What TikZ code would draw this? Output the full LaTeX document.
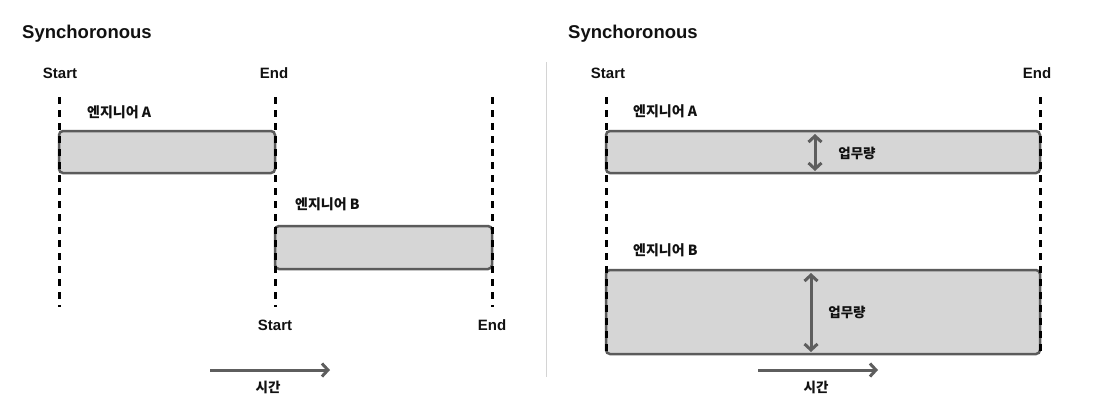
\documentclass[tikz,border=0pt]{standalone}
\usepackage{fontspec}
\setmainfont{Liberation Sans}
\newfontfamily\kr{Noto Sans CJK KR}
\usetikzlibrary{arrows.meta}
\definecolor{boxfill}{HTML}{D6D6D6}
\definecolor{boxline}{HTML}{5B5B5B}
\definecolor{arrowgray}{HTML}{5E5E5E}
\definecolor{sepgray}{HTML}{D4D4D4}
\definecolor{ink}{HTML}{111111}
\begin{document}
\begin{tikzpicture}[x=1pt,y=-1pt,
  title/.style={anchor=base west,inner sep=0pt,text=ink,font=\bfseries\fontsize{18.5}{22}\selectfont},
  lbl/.style={anchor=base,inner sep=0pt,text=ink,font=\bfseries\fontsize{15}{17}\selectfont},
  krlbl/.style={inner sep=0pt,text=ink,font=\kr\bfseries\fontsize{13.5}{15}\selectfont},
  krname/.style={anchor=west,inner sep=0pt,text=ink,font=\kr\bfseries\fontsize{14}{16}\selectfont},
  taskbox/.style={draw=boxline,fill=boxfill,line width=2.5pt,rounded corners=4pt,inner sep=0pt},
  vdash/.style={draw=black,line width=3pt,dash pattern=on 7pt off 6pt},
  timearrow/.style={draw=arrowgray,line width=3pt,-{Straight Barb[length=6pt,width=13pt]}},
  loadarrow/.style={draw=arrowgray,line width=3pt,{Straight Barb[length=6pt,width=13pt]}-{Straight Barb[length=6pt,width=13pt]}}
]
\useasboundingbox (0,0) rectangle (1102,405);

% ---------- left panel ----------
\node[title] (t1) at (22,38.5) {Synchoronous};
\node[lbl] (s1) at (60,78) {Start};
\node[lbl] (e1) at (274,78) {End};

\node[taskbox,minimum width=216pt,minimum height=42pt] (ba1) at (167,152) {};
\node[taskbox,minimum width=217pt,minimum height=43pt] (bb1) at (383.5,247.5) {};

\node[krname] (na1) at (87,112) {엔지니어 A};
\node[krname] (nb1) at (295,204) {엔지니어 B};

\coordinate (d1t) at (59,97);  \coordinate (d1b) at (59,307);
\coordinate (d2t) at (275,97); \coordinate (d2b) at (275,307);
\coordinate (d3t) at (492,97); \coordinate (d3b) at (492,307);
\draw[vdash] (d1t) -- (d1b);
\draw[vdash] (d2t) -- (d2b);
\draw[vdash] (d3t) -- (d3b);

\node[lbl] (s2) at (275,330) {Start};
\node[lbl] (e2) at (492,330) {End};

\coordinate (ta1) at (210,370); \coordinate (tb1) at (330,370);
\draw[timearrow] (ta1) -- (tb1);
\node[krlbl] (tl1) at (268,387) {시간};

% ---------- separator ----------
\coordinate (sepT) at (546,62); \coordinate (sepB) at (546,377);
\draw[sepgray,line width=1pt] (sepT) -- (sepB);

% ---------- right panel ----------
\node[title] (t2) at (568,38.5) {Synchoronous};
\node[lbl] (s3) at (608,78) {Start};
\node[lbl] (e3) at (1037,78) {End};

\node[taskbox,minimum width=434pt,minimum height=42pt] (ba2) at (823,152) {};
\node[taskbox,minimum width=434pt,minimum height=84pt] (bb2) at (823,312) {};

\node[krname] (na2) at (633,111) {엔지니어 A};
\node[krname] (nb2) at (633,250) {엔지니어 B};

\coordinate (d4t) at (606,97);  \coordinate (d4b) at (606,355);
\coordinate (d5t) at (1040,97); \coordinate (d5b) at (1040,355);
\draw[vdash] (d4t) -- (d4b);
\draw[vdash] (d5t) -- (d5b);

\coordinate (la1) at (815,134); \coordinate (lb1) at (815,171);
\draw[loadarrow] (la1) -- (lb1);
\node[krlbl] (w1) at (857,153) {업무량};

\coordinate (la2) at (811,273); \coordinate (lb2) at (811,352);
\draw[loadarrow] (la2) -- (lb2);
\node[krlbl] (w2) at (847,312) {업무량};

\coordinate (ta2) at (758,370); \coordinate (tb2) at (878,370);
\draw[timearrow] (ta2) -- (tb2);
\node[krlbl] (tl2) at (816,387) {시간};
\end{tikzpicture}
\end{document}
